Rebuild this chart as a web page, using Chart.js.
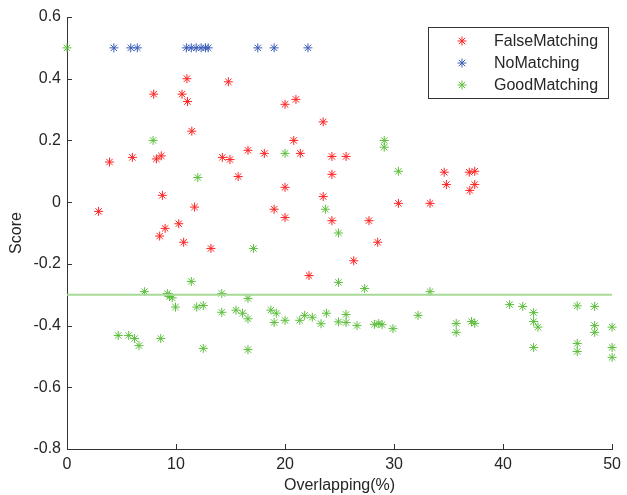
<!DOCTYPE html>
<html lang="en">
<head>
  <meta charset="UTF-8" />
  <title>Score vs Overlapping</title>
  <script src="https://cdn.jsdelivr.net/npm/chart.js"></script>
  <style>
    html, body { margin: 0; padding: 0; background: #fff; }
    #wrap { width: 627px; height: 495px; }
  </style>
</head>
<body>
  <div id="wrap"><canvas id="chart" width="627" height="495"></canvas></div>

  <script>
    // FalseMatching (red)
    const falseX = [2.9, 3.9, 6.0, 7.95, 8.2, 8.65, 8.75, 9.0, 8.5, 10.25, 10.7, 10.55, 11.0, 11.05, 11.45, 11.7,
      13.2, 14.25, 14.95, 14.8, 15.7, 16.6, 18.1, 20.0, 21.0, 20.8, 21.4, 19.0, 20.0, 20.0, 22.2, 23.5,
      23.5, 24.3, 24.3, 24.3, 25.6, 26.3, 27.7, 28.5, 30.4, 33.3, 34.6, 34.8, 36.9, 37.4, 37.4, 36.95];
    const falseY = [-0.03, 0.13, 0.145, 0.35, 0.14, 0.15, 0.022, -0.085, -0.11, -0.07, -0.13, 0.35, 0.40, 0.326, 0.23, -0.016,
      -0.15, 0.145, 0.138, 0.39, 0.083, 0.168, 0.158, 0.317, 0.333, 0.2, 0.158, -0.023, 0.048, -0.05, -0.238, 0.26,
      0.018, 0.148, 0.09, -0.06, 0.148, -0.19, -0.06, -0.13, -0.004, -0.004, 0.097, 0.057, 0.097, 0.10, 0.057, 0.038];

    // NoMatching (blue)
    const noX = [4.3, 5.85, 6.45, 10.95, 11.4, 11.85, 12.3, 12.7, 12.95, 17.5, 19.0, 22.1];
    const noY = [0.5, 0.5, 0.5, 0.5, 0.5, 0.5, 0.5, 0.5, 0.5, 0.5, 0.5, 0.5];

    // GoodMatching (green)
    const goodX = [0, 7.9, 12.0, 20.0, 29.1, 29.1, 30.4, 23.7, 24.9, 17.1, 11.4, 24.9, 27.3, 7.1, 9.2, 9.4, 9.65, 9.95,
      11.9, 12.5, 14.2, 14.2, 15.5, 16.1, 16.6, 16.6, 18.7, 19.2, 19.0, 20.0, 21.35, 21.8, 22.5, 23.3, 23.8, 24.9,
      25.6, 25.6, 26.6, 28.2, 28.6, 28.9, 29.9, 32.2, 33.3, 35.7, 35.7, 37.1, 37.4, 40.6, 41.8, 42.8, 42.8, 43.2,
      42.8, 46.8, 46.8, 46.8, 48.4, 48.4, 48.4, 50, 50, 50, 4.7, 5.66, 6.2, 6.6, 8.6, 12.5, 16.6];
    const goodY = [0.5, 0.2, 0.08, 0.158, 0.2, 0.178, 0.1, -0.023, -0.1, -0.15, -0.257, -0.26, -0.28, -0.29, -0.296, -0.306, -0.31, -0.34,
      -0.34, -0.335, -0.296, -0.357, -0.35, -0.36, -0.312, -0.378, -0.35, -0.36, -0.39, -0.383, -0.383, -0.367, -0.373, -0.394, -0.36, -0.388,
      -0.364, -0.39, -0.40, -0.396, -0.393, -0.397, -0.41, -0.367, -0.29, -0.393, -0.422, -0.387, -0.393, -0.332, -0.338, -0.358, -0.387, -0.405,
      -0.471, -0.336, -0.458, -0.484, -0.338, -0.40, -0.422, -0.405, -0.471, -0.503, -0.432, -0.432, -0.442, -0.465, -0.442, -0.474, -0.478];

    // threshold line
    const lineX = [0, 50];
    const lineY = [-0.3, -0.3];

    const xTicks = [0, 10, 20, 30, 40, 50];
    const yTicks = [-0.8, -0.6, -0.4, -0.2, 0, 0.2, 0.4, 0.6];

    const pts = (xs, ys) => xs.map((x, i) => ({ x: x, y: ys[i] }));
    const FONT = "'Liberation Sans', Arial, sans-serif";
    const TXT = '#262626';

    const starSet = (label, data, color) => ({
      type: 'scatter',
      label: label,
      data: data,
      pointStyle: 'star',
      radius: 4.5,
      pointBorderWidth: 1,
      borderColor: color,
      backgroundColor: color,
      clip: false
    });

    // inward ticks like the original plot
    const innerTicks = {
      id: 'innerTicks',
      afterDraw(chart) {
        const { ctx, chartArea, scales } = chart;
        ctx.save();
        ctx.strokeStyle = '#333';
        ctx.lineWidth = 1;
        ctx.beginPath();
        scales.y.ticks.forEach(t => {
          const py = Math.round(scales.y.getPixelForValue(t.value)) + 0.5;
          ctx.moveTo(chartArea.left, py);
          ctx.lineTo(chartArea.left + 5, py);
        });
        scales.x.ticks.forEach(t => {
          const px = Math.round(scales.x.getPixelForValue(t.value)) + 0.5;
          ctx.moveTo(px, chartArea.bottom);
          ctx.lineTo(px, chartArea.bottom - 5);
        });
        ctx.stroke();
        ctx.restore();
      }
    };

    // legend box inside the plot, top right
    const boxLegend = {
      id: 'boxLegend',
      afterDraw(chart) {
        const { ctx } = chart;
        const sets = chart.data.datasets.filter(d => d.type === 'scatter');
        const bx = 428.5, by = 27.5, bw = 180, bh = 71;
        ctx.save();
        ctx.fillStyle = '#fff';
        ctx.fillRect(bx, by, bw, bh);
        ctx.strokeStyle = '#333';
        ctx.lineWidth = 1;
        ctx.strokeRect(bx, by, bw, bh);
        sets.forEach((d, i) => {
          const cy = 41 + i * 22, cx = 462, r = 4.5;
          ctx.strokeStyle = d.borderColor;
          ctx.beginPath();
          for (let k = 0; k < 4; k++) {
            const a = k * Math.PI / 4;
            ctx.moveTo(cx - r * Math.cos(a), cy - r * Math.sin(a));
            ctx.lineTo(cx + r * Math.cos(a), cy + r * Math.sin(a));
          }
          ctx.stroke();
          ctx.fillStyle = TXT;
          ctx.font = '16px ' + FONT;
          ctx.textBaseline = 'middle';
          ctx.fillText(d.label, 494, cy + 1);
        });
        ctx.restore();
      }
    };

    new Chart(document.getElementById('chart'), {
      data: {
        datasets: [
          {
            type: 'line',
            label: 'threshold',
            data: pts(lineX, lineY),
            borderColor: '#a6da96',
            borderWidth: 2,
            pointRadius: 0,
            fill: false
          },
          starSet('FalseMatching', pts(falseX, falseY), '#ff2222'),
          starSet('NoMatching', pts(noX, noY), '#3a5cb8'),
          starSet('GoodMatching', pts(goodX, goodY), '#5cbf3c')
        ]
      },
      options: {
        responsive: false,
        animation: false,
        layout: { padding: { top: 17, right: 12, bottom: 0, left: 0 } },
        plugins: {
          legend: { display: false },
          tooltip: { enabled: false }
        },
        scales: {
          x: {
            type: 'linear',
            min: 0, max: 50,
            afterFit: s => { s.height = 46; },
            afterBuildTicks: s => { s.ticks = xTicks.map(v => ({ value: v })); },
            grid: { display: false, drawTicks: false },
            border: { display: true, color: '#333', width: 1 },
            ticks: { color: TXT, font: { family: FONT, size: 16 }, padding: 6 },
            title: { display: true, text: 'Overlapping(%)', color: TXT, font: { family: FONT, size: 16 }, padding: { top: 0, bottom: 0 } }
          },
          y: {
            type: 'linear',
            min: -0.8, max: 0.6,
            afterFit: s => { s.width = 67; },
            afterBuildTicks: s => { s.ticks = yTicks.map(v => ({ value: v })); },
            grid: { display: false, drawTicks: false },
            border: { display: true, color: '#333', width: 1 },
            ticks: {
              color: TXT, font: { family: FONT, size: 16 }, padding: 6,
              callback: v => String(Number(v.toFixed(1)))
            },
            title: { display: true, text: 'Score', color: TXT, font: { family: FONT, size: 16 }, padding: { top: 7, bottom: 0 } }
          }
        }
      },
      plugins: [innerTicks, boxLegend]
    });
  </script>
</body>
</html>
